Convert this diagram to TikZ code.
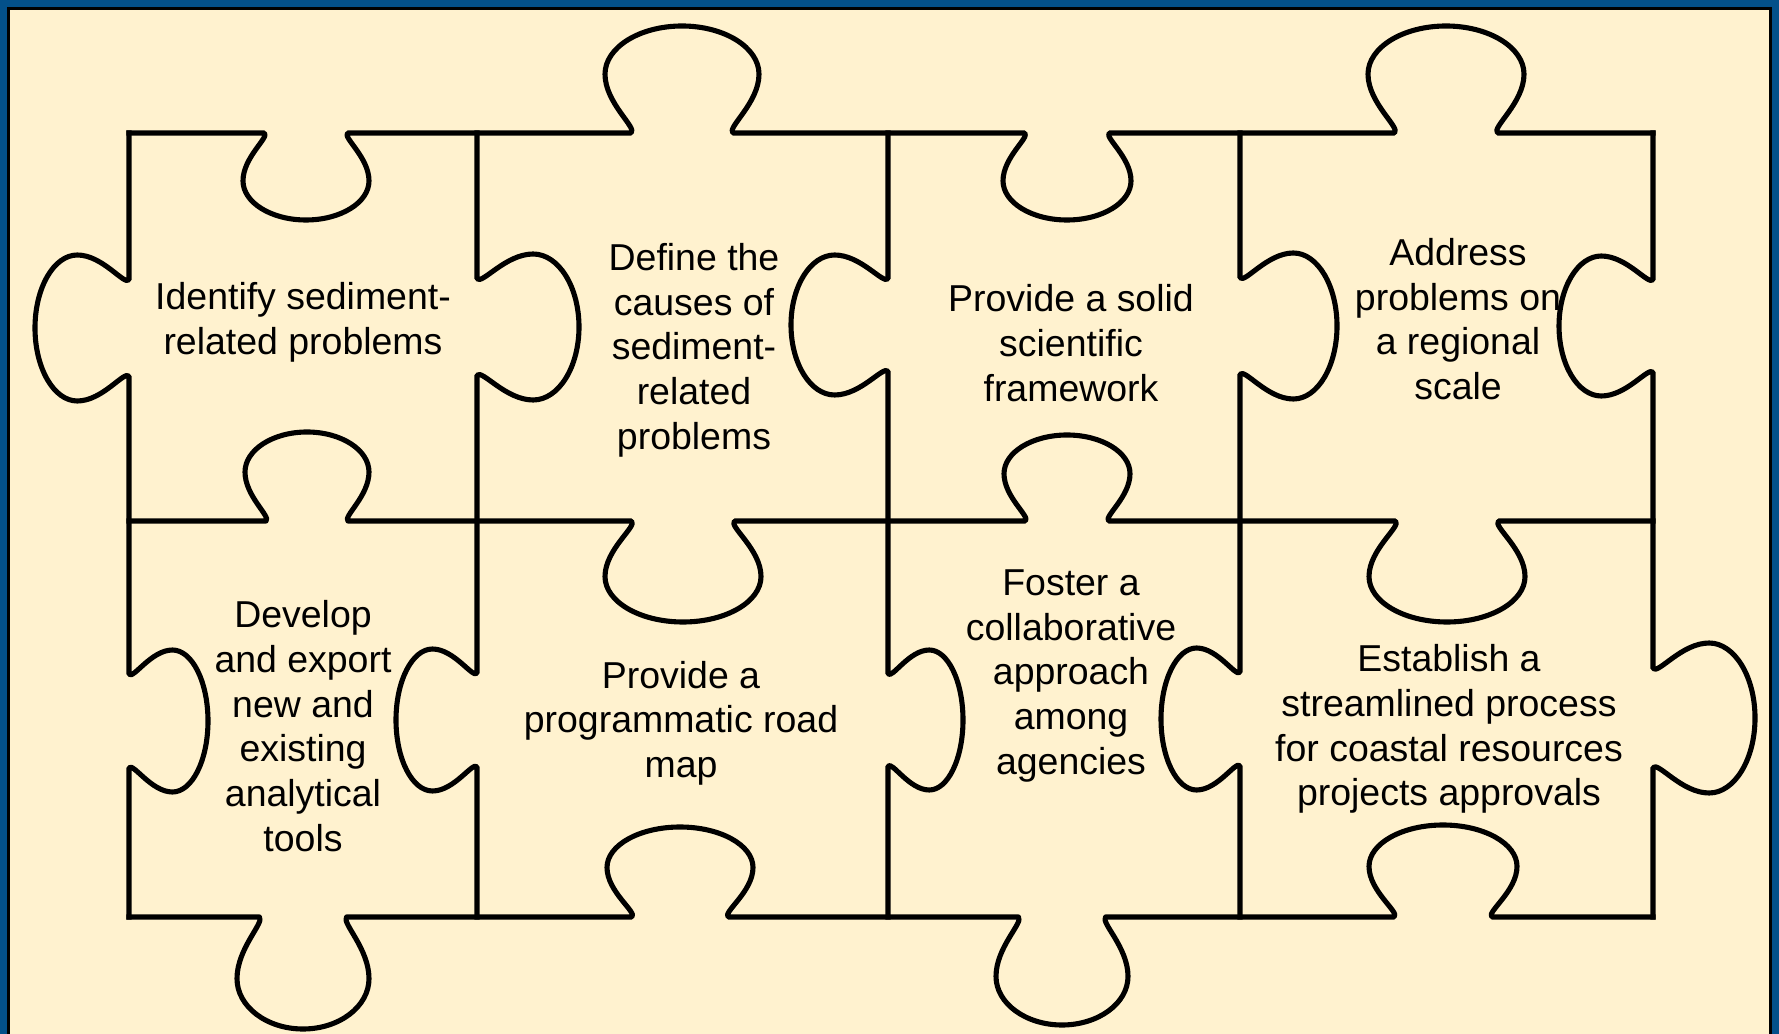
\documentclass[tikz,border=0pt]{standalone}
\usepackage{fontspec}
\setmainfont{Liberation Sans}
\definecolor{frameblue}{RGB}{3,80,138}
\definecolor{puzzlecream}{RGB}{255,242,207}

\begin{document}
\begin{tikzpicture}[x=0.01cm, y=-0.01cm,
    puzzleline/.style={line width=1.45pt, line cap=rect, line join=round},
    piecetext/.style={align=center, inner sep=0pt, font=\fontsize{10.65}{12.7}\selectfont}]

  % Knob on a horizontal edge: centre x, edge y, half width, depth (+ is down)
  \def\hknob#1#2#3#4{-- ({#1-0.66*#3},#2)
    .. controls ({#1-0.58*#3},{#2+0.05*(#4)}) and ({#1-#3},{#2+0.28*(#4)}) .. ({#1-#3},{#2+0.55*(#4)})
    .. controls ({#1-#3},{#2+0.8*(#4)}) and ({#1-0.55*#3},{#2+(#4)}) .. (#1,{#2+(#4)})
    .. controls ({#1+0.55*#3},{#2+(#4)}) and ({#1+#3},{#2+0.8*(#4)}) .. ({#1+#3},{#2+0.55*(#4)})
    .. controls ({#1+#3},{#2+0.28*(#4)}) and ({#1+0.58*#3},{#2+0.05*(#4)}) .. ({#1+0.66*#3},#2)}
  % Knob on a vertical edge: edge x, centre y, half width, depth (+ is right)
  \def\vknob#1#2#3#4{-- (#1,{#2-0.66*#3})
    .. controls ({#1+0.05*(#4)},{#2-0.58*#3}) and ({#1+0.28*(#4)},{#2-#3}) .. ({#1+0.55*(#4)},{#2-#3})
    .. controls ({#1+0.8*(#4)},{#2-#3}) and ({#1+(#4)},{#2-0.55*#3}) .. ({#1+(#4)},#2)
    .. controls ({#1+(#4)},{#2+0.55*#3}) and ({#1+0.8*(#4)},{#2+#3}) .. ({#1+0.55*(#4)},{#2+#3})
    .. controls ({#1+0.28*(#4)},{#2+#3}) and ({#1+0.05*(#4)},{#2+0.58*#3}) .. (#1,{#2+0.66*#3})}

  % Frame and background
  \useasboundingbox (0,0) rectangle (1779,1034);
  \fill[frameblue] (0,0) rectangle (1779,1034);
  \fill[puzzlecream] (8,8) rectangle (1771,1034);
  \draw[line width=0.6pt] (8.5,1034) -- (8.5,8.5) -- (1770.5,8.5) -- (1770.5,1034);

  % Horizontal edges
  \draw[puzzleline] (129,133) \hknob{306}{133}{63}{87} \hknob{682}{133}{77}{-107}
    \hknob{1067}{133}{64}{87} \hknob{1446}{133}{78}{-107} -- (1653,133);
  \draw[puzzleline] (129,521) \hknob{307}{521}{62}{-89} \hknob{683}{521}{78}{101}
    \hknob{1067}{521}{63}{-86} \hknob{1447}{521}{78}{101} -- (1653,521);
  \draw[puzzleline] (129,917) \hknob{303}{917}{66}{112} \hknob{680}{917}{73}{-90}
    \hknob{1062}{917}{66}{108} \hknob{1443}{917}{74}{-92} -- (1653,917);

  % Vertical edges
  \draw[puzzleline] (129,133) \vknob{129}{328}{73}{-94} \vknob{129}{721}{71}{79} -- (129,917);
  \draw[puzzleline] (477,133) \vknob{477}{327}{73}{102} \vknob{477}{720}{71}{-81} -- (477,917);
  \draw[puzzleline] (888,133) \vknob{888}{325}{70}{-97} \vknob{888}{720}{70}{75} -- (888,917);
  \draw[puzzleline] (1240,133) \vknob{1240}{326}{73}{97} \vknob{1240}{719}{71}{-79} -- (1240,917);
  \draw[puzzleline] (1653,133) \vknob{1653}{326}{70}{-94} \vknob{1653}{718}{75}{102} -- (1653,917);

  % Piece texts
  \node[piecetext] (identify) at (303,322) {Identify sediment-\\related problems};
  \node[piecetext] (define) at (694,350) {Define the\\causes of\\sediment-\\related\\problems};
  \node[piecetext] (science) at (1071,343) {Provide a solid\\scientific\\framework};
  \node[piecetext] (regional) at (1458,319) {Address\\problems on\\a regional\\scale};
  \node[piecetext] (tools) at (303,726) {Develop\\and export\\new and\\existing\\analytical\\tools};
  \node[piecetext] (roadmap) at (681,723) {Provide a\\programmatic road\\map};
  \node[piecetext] (foster) at (1071,676) {Foster a\\collaborative\\approach\\among\\agencies};
  \node[piecetext] (process) at (1449,729) {Establish a\\streamlined process\\for coastal resources\\projects approvals};
\end{tikzpicture}
\end{document}
